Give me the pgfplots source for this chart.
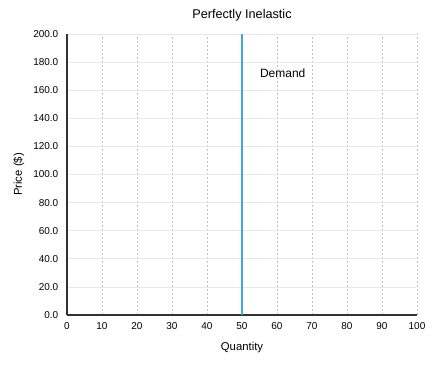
\documentclass[border=0pt]{standalone}
\usepackage{pgfplots}
\pgfplotsset{compat=1.18}
\usetikzlibrary{calc}
\usepackage{fontspec}
\setmainfont{Liberation Sans}
\definecolor{demandblue}{RGB}{60,168,222}
\definecolor{axisdark}{RGB}{50,50,50}
\begin{document}
\begin{tikzpicture}
\begin{axis}[
  scale only axis,
  width=262.5pt, height=210.75pt,
  xmin=0, xmax=100, ymin=0, ymax=200,
  axis x line=bottom, axis y line=left,
  axis line style={-, axisdark, line width=0.9pt},
  xtick={0,10,...,100},
  ytick={0,20,...,200},
  major tick length=0pt,
  /pgf/number format/assume math mode=true,
  yticklabel style={/pgf/number format/.cd, fixed, fixed zerofill, precision=1, /tikz/.cd, xshift=-3pt},
  xticklabel style={/pgf/number format/.cd, fixed, precision=0, /tikz/.cd, yshift=-2pt},
  tick label style={font=\fontsize{7.5}{9}\selectfont, text=black},
  xmajorgrids, ymajorgrids,
  x grid style={dash pattern=on 1.5pt off 1.5pt, gray!50, line width=0.4pt},
  y grid style={solid, gray!18, line width=0.5pt},
  title={Perfectly Inelastic},
  title style={font=\fontsize{9.5}{11}\selectfont, yshift=0pt},
  xlabel={Quantity},
  ylabel={Price (\$)},
  label style={font=\fontsize{8.5}{10}\selectfont},
  xlabel style={yshift=-2.5pt},
  ylabel style={yshift=0pt},
  clip=false,
]
\addplot[demandblue, line width=1.5pt] coordinates {(50,0) (50,200)};
\node[anchor=west, font=\fontsize{9}{11}\selectfont] at (axis cs:53.8,172) {Demand};
\end{axis}
\pgfresetboundingbox
\useasboundingbox ($(current axis.south west)+(-50.25pt,-38.25pt)$) rectangle ($(current axis.north east)+(12pt,25.5pt)$);
\end{tikzpicture}
\end{document}
